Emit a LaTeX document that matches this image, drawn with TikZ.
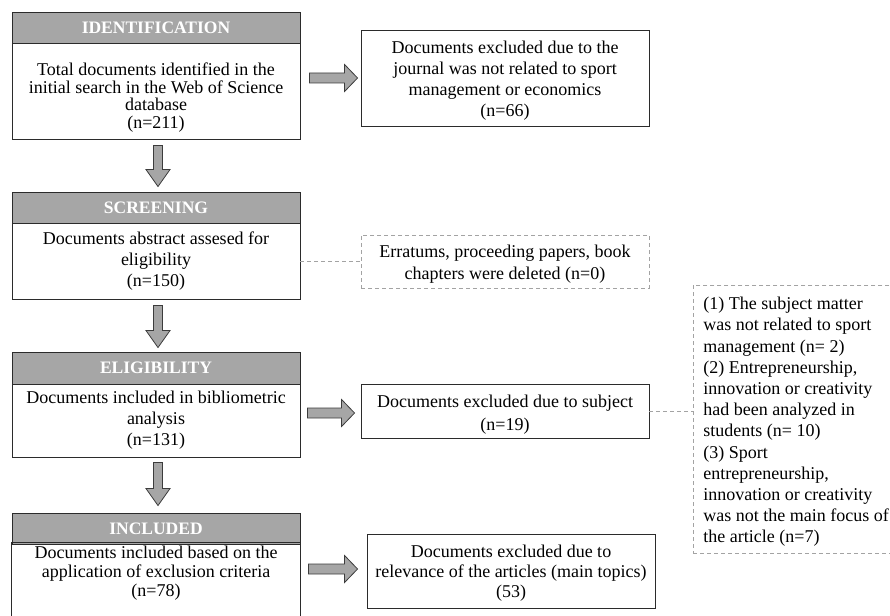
\documentclass[tikz,border=0pt]{standalone}
\usepackage{fontspec}
\setmainfont{Liberation Serif}
\usetikzlibrary{calc}

\definecolor{hdrgray}{HTML}{A6A6A6}
\definecolor{edgecol}{HTML}{2B2B2B}
\definecolor{dashgray}{HTML}{A3A3A3}
\definecolor{arrowedge}{HTML}{3C3C3C}

\tikzset{
  bodytext/.style={font=\fontsize{18}{21}\selectfont},
  stagebox/.style={draw=edgecol, line width=0.9pt, minimum width=288pt,
    inner sep=0pt, align=center, bodytext},
  stagehead/.style={stagebox, fill=hdrgray, text=white, minimum height=31pt,
    font=\fontsize{17.5}{20}\selectfont\bfseries},
  sidebox/.style={stagebox},
  notebox/.style={draw=dashgray, dashed, dash pattern=on 4pt off 3pt,
    line width=0.8pt, inner sep=0pt, bodytext},
  noteline/.style={draw=dashgray, dash pattern=on 4pt off 3pt, line width=0.8pt},
  blockarrow/.style={fill=hdrgray, draw=arrowedge, line width=0.8pt, line join=miter},
}

% taller first line, which lowers a centred text block a little
\newcommand{\lowerby}[1]{\rule{0pt}{\dimexpr 12.6pt+2\dimexpr #1\relax\relax}}

% horizontal block arrow from #1 to the tip #2 (tip keeps the height of #1)
\newcommand{\rightblock}[2]{%
  \filldraw[blockarrow] let \p1=#1, \p2=#2 in
    (\x1,{\y1+5pt}) -- ({\x2-13pt},{\y1+5pt}) -- ({\x2-13pt},{\y1+13.5pt})
    -- (\x2,\y1) -- ({\x2-13pt},{\y1-13.5pt}) -- ({\x2-13pt},{\y1-5pt})
    -- (\x1,{\y1-5pt}) -- cycle;}

% vertical block arrow from #1 down to the height of #2
\newcommand{\downblock}[2]{%
  \filldraw[blockarrow] let \p1=#1, \p2=#2 in
    ({\x1-4.5pt},\y1) -- ({\x1-4.5pt},{\y2+17pt}) -- ({\x1-12pt},{\y2+17pt})
    -- (\x1,\y2) -- ({\x1+12pt},{\y2+17pt}) -- ({\x1+4.5pt},{\y2+17pt})
    -- ({\x1+4.5pt},\y1) -- cycle;}

\begin{document}
\begin{tikzpicture}[x=1pt, y=-1pt]
  \useasboundingbox (0,0) rectangle (890,615);

  % ---- identification ----
  \node[stagehead] (idhead) at (156,27.5) {IDENTIFICATION};
  \node[stagebox, minimum height=96pt, font=\fontsize{18}{17.7}\selectfont]
    (idbody) at (156,91)
    {\lowerby{6.5pt}Total documents identified in the\\initial search in the Web of Science\\database\\(n=211)};
  \node[sidebox, minimum height=96pt] (excl1) at (505,78)
    {\lowerby{3pt}Documents excluded due to the\\journal was not related to sport\\management or economics\\(n=66)};

  % ---- screening ----
  \node[stagehead] (scrhead) at (156,207.5) {SCREENING};
  \node[stagebox, minimum height=76pt] (scrbody) at (156,261)
    {Documents abstract assesed for\\eligibility\\(n=150)};
  \node[notebox, minimum width=288pt, minimum height=53pt, align=center, font=\fontsize{18}{22}\selectfont]
    (deleted) at (505,261.5)
    {\lowerby{2.5pt}Erratums, proceeding papers, book\\chapters were deleted (n=0)};

  % ---- eligibility ----
  \node[stagehead, minimum height=32pt] (elhead) at (156,368) {ELIGIBILITY};
  \node[stagebox, minimum height=73pt] (elbody) at (156,420.5)
    {Documents included in bibliometric\\analysis\\(n=131)};
  \node[sidebox, minimum height=54pt, font=\fontsize{18}{23}\selectfont] (subj) at (505,411)
    {\lowerby{4pt}Documents excluded due to subject\\(n=19)};
  \node[notebox, anchor=north west, minimum width=200pt, minimum height=268pt,
        inner xsep=10pt, align=left, font=\fontsize{18}{21.2}\selectfont]
    (reasons) at (693,285)
    {\lowerby{2.5pt}(1) The subject matter\\was not related to sport\\management (n= 2)\\(2) Entrepreneurship,\\innovation or creativity\\had been analyzed in\\students (n= 10)\\(3) Sport\\entrepreneurship,\\innovation or creativity\\was not the main focus of\\the article (n=7)};

  % ---- included ----
  \node[stagehead] (inchead) at (156,528.5) {INCLUDED};
  \node[stagebox, draw=none, minimum height=56pt, font=\fontsize{18}{19}\selectfont] (incbody) at (156,572)
    {\lowerby{1.5pt}Documents included based on the\\application of exclusion criteria\\(n=78)};
  \draw[edgecol, line width=0.9pt]
    ([yshift=-40pt]incbody.south west) -- (incbody.north west)
    -- (incbody.north east) -- ([yshift=-40pt]incbody.south east);
  \node[sidebox, minimum height=74pt, font=\fontsize{18}{20}\selectfont] (excl3) at (511,571)
    {\lowerby{2pt}Documents excluded due to\\relevance of the articles (main topics)\\(53)};

  % ---- flow arrows ----
  \downblock{($(idbody.south)+(2,6)$)}{($(scrhead.north)+(0,-5)$)}
  \downblock{($(scrbody.south)+(2,6)$)}{($(elhead.north)+(0,-4)$)}
  \downblock{($(elbody.south)+(2,5)$)}{($(inchead.north)+(0,-7)$)}

  \rightblock{($(idbody.east |- excl1.west)+(9,0)$)}{($(excl1.west)+(-3,0)$)}
  \rightblock{($(elbody.east |- subj.west)+(7,2)$)}{($(subj.west)+(-6,2)$)}
  \rightblock{($(incbody.east |- excl3.west)+(8,-2)$)}{($(excl3.west)+(-9,-2)$)}

  % ---- dashed links to the notes ----
  \draw[noteline] (scrbody.east |- deleted.west) -- (deleted.west);
  \draw[noteline] (subj.east) -- (subj.east -| reasons.west);
\end{tikzpicture}
\end{document}
